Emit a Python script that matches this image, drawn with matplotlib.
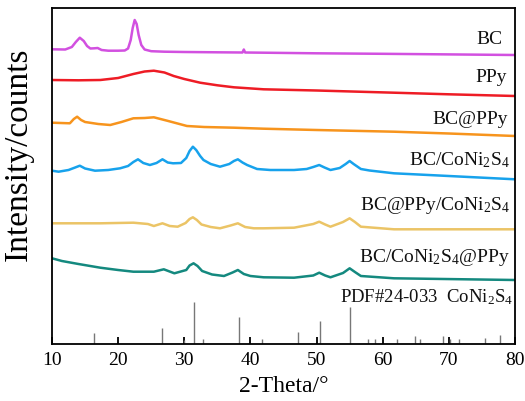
import matplotlib
matplotlib.use("Agg")
import matplotlib.pyplot as plt

plt.rcParams['font.family'] = ['Liberation Serif', 'DejaVu Serif']
plt.rcParams['mathtext.fontset'] = 'custom'
plt.rcParams['mathtext.rm'] = 'Liberation Serif'
plt.rcParams['mathtext.it'] = 'Liberation Serif:italic'

TOP = 344  # stacked intensity values read as (TOP - pixel row)

bc_x = [10, 12, 13, 13.6, 14.2, 14.8, 15.3, 15.8, 16.4, 16.9, 17.5, 18.5, 20, 21, 21.5, 21.9, 22.2, 22.5,
        22.8, 23.1, 23.5, 24, 25, 27, 30, 35, 38.8, 39.0, 39.2, 42, 50, 60, 70, 80]
bc_y = [49.3, 49.5, 47, 42, 37.7, 41, 46, 48.5, 48.3, 48, 50, 50.7, 50.7, 50.5, 48.5, 40, 28, 20,
        24, 35, 45, 49.5, 51.2, 51.7, 52, 52.3, 52.5, 49.5, 52.5, 52.7, 53.3, 53.8, 54.4, 55]

ppy_x = [10, 14, 17.3, 20, 22.3, 24, 25.4, 27, 28.4, 30, 32.4, 35, 37.5, 42, 50, 61.7, 70, 80]
ppy_y = [80, 80.3, 80, 78, 74, 71.5, 70.7, 72.5, 76, 79, 82.7, 85.3, 87.3, 89.3, 90.5, 92.7, 94.3, 96]

bcppy_x = [10, 12.7, 13.3, 13.8, 14.4, 15, 17, 18.8, 20.5, 22.3, 24, 25.4, 27.4, 30.4, 33, 37.5, 42, 50,
           61.7, 70, 80]
bcppy_y = [122.7, 123.3, 119, 116.7, 120, 122, 124, 125, 122, 118.3, 118, 117.3, 120.7, 126, 127, 127.7,
           128.7, 130, 131.7, 133.5, 136]

bccns_x = [10, 11, 12.5, 13.5, 14.2, 15, 16.5, 18.5, 20.3, 21.5, 22.3, 23.0, 23.8, 24.8, 25.8, 26.7, 27.5,
           28.3, 29.5, 30.3, 30.8, 31.3, 31.8, 32.4, 32.9, 34, 35.4, 36.8, 37.5, 38.1, 38.8, 39.5, 41, 43,
           46.6, 48.5, 49.5, 50.4, 51.2, 52.1, 53.5, 54.4, 55.0, 55.6, 56.7, 58, 61.7, 70, 80]
bccns_y = [170.7, 171.7, 170, 167.5, 165.7, 168.5, 170.7, 170, 168.3, 166, 162, 159.3, 163, 165, 163, 159.3,
           162.5, 163.3, 163, 158, 151, 146.7, 150, 156, 160, 164, 166.7, 164, 161, 159.3, 162.5, 165, 169,
           170, 170, 169, 167, 165, 167.5, 170, 168, 164, 161, 164, 169, 170.5, 173.3, 176, 179.3]

bcppycns_x = [10, 17.3, 22.3, 24.5, 25.4, 26.7, 27.8, 29, 30.2, 30.8, 31.3, 31.9, 32.6, 34, 35.4, 37, 38.1,
              39.2, 40.5, 42, 46.6, 49.5, 50.4, 51.3, 52.1, 54, 55.0, 55.8, 56.7, 61.7, 80]
bcppycns_y = [223.3, 223.3, 222.7, 224, 226, 223.3, 226, 226.7, 223, 219, 217.3, 220, 224.5, 227, 228.3,
              225.5, 223.3, 227, 228.3, 228.3, 227.7, 224, 221.7, 224.5, 226.7, 222, 218.3, 222, 226.7,
              229.3, 229.3]

bccnsppy_x = [10, 11.5, 14, 17.3, 20, 22.3, 25.4, 26.9, 28.5, 30.3, 30.8, 31.4, 32, 32.7, 34.2, 36, 37.3,
              38.1, 39, 40, 42, 46.6, 49.5, 50.4, 51.3, 52.1, 54, 55, 55.8, 56.7, 61.7, 80]
bccnsppy_y = [258.3, 261, 264, 267.7, 270, 271.7, 271.7, 269.3, 273.3, 270, 265.5, 263.3, 266, 271, 274.5,
              276, 272.5, 270, 274, 276, 277.3, 277.7, 275.5, 272.7, 275.5, 277.3, 273, 268.3, 272, 276,
              278.3, 280]

pdf_pos = [16.3, 26.7, 29.9, 31.5, 32.9, 38.3, 41.8, 47.2, 50.45, 55.1, 57.8, 58.8, 62.2, 64.9, 65.7,
           69.1, 70.1, 71.6, 75.5, 77.8]
pdf_int = [10.7, 16, 4, 42, 5, 27, 5, 12, 23, 37, 5, 5, 5.5, 7.7, 4.7, 7.7, 5, 5, 6, 9.3]

series = [
    ("BC", bc_x, bc_y, "#D250E0"),
    ("PPy", ppy_x, ppy_y, "#EE1C25"),
    ("BC@PPy", bcppy_x, bcppy_y, "#F7941D"),
    ("BC/CoNi$_2$S$_4$", bccns_x, bccns_y, "#17A2EC"),
    ("BC@PPy/CoNi$_2$S$_4$", bcppycns_x, bcppycns_y, "#EBC466"),
    ("BC/CoNi$_2$S$_4$@PPy", bccnsppy_x, bccnsppy_y, "#14897F"),
]
label_rows = [39, 77, 119, 160, 206, 258]
label_right = [503, 506.5, 508, 510, 510, 510]

PXU = 463 / 70.0

fig = plt.figure(figsize=(5.25, 4.01), dpi=100)
ax = fig.add_axes([52 / 525, 1 - 344 / 401, 463 / 525, 336 / 401])

for (name, xs, ys, col), row, xr in zip(series, label_rows, label_right):
    ax.plot(xs, [TOP - v for v in ys], color=col, lw=1.8, solid_joinstyle='round')
    ax.text(10 + (xr - 52) / PXU, TOP - row, name, ha='right', va='center', fontsize=14, color='#111111')

ax.vlines(pdf_pos, 0, pdf_int, color='#777777', lw=1.0)
ax.text(10 + (513 - 52) / PXU, TOP - 297, "PDF#24-033  CoNi$_2$S$_4$", ha='right', va='center',
        fontsize=13.5, color='#111111')

ax.set_xlim(10, 80)
ax.set_ylim(0, 336)
ax.set_xticks(range(10, 81, 10))
ax.set_yticks([])
ax.tick_params(axis='x', direction='in', length=5, width=1.3, labelsize=14, pad=6)
for s in ax.spines.values():
    s.set_linewidth(1.3)
    s.set_color('black')
ax.set_xlabel("2-Theta/°", fontsize=17, labelpad=5)
ax.set_ylabel("Intensity/counts", fontsize=24)
ax.yaxis.set_label_coords(-0.04, 0.564)

fig.savefig("out.png", dpi=100)
